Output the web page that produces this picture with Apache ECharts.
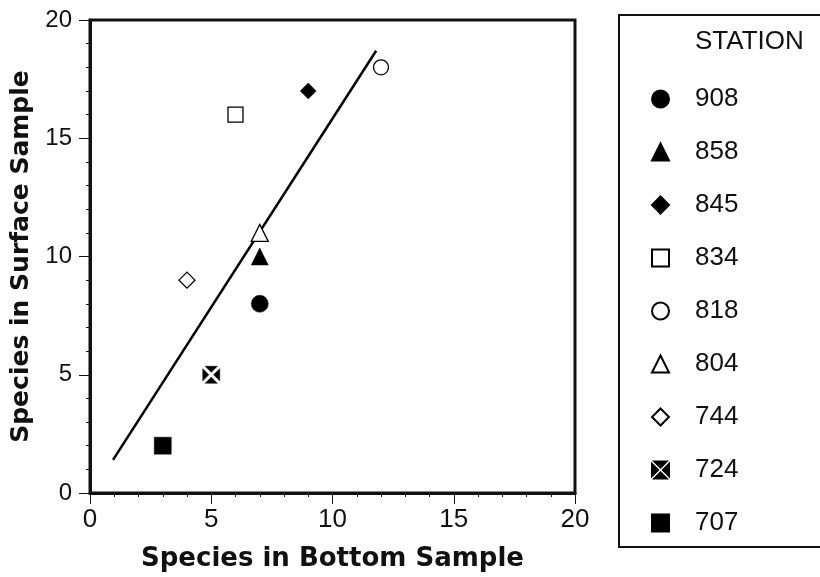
<!DOCTYPE html>
<html><head><meta charset="utf-8">
<script src="https://cdn.jsdelivr.net/npm/echarts@6/dist/echarts.min.js"></script>
<style>html,body{margin:0;padding:0;background:#fff}#c{width:820px;height:577px}</style>
</head><body><div id="c"></div>
<script>
// Data
const stations = ['908','858','845','834','818','804','744','724','707'];
const bottomSpecies = [7, 7, 9, 6, 12, 7, 4, 5, 3];
const surfaceSpecies = [8, 10, 17, 16, 18, 11, 9, 5, 2];
const fitLine = [[0.95, 1.4], [11.8, 18.7]];
const xTicks = [0, 5, 10, 15, 20];
const yTicks = [0, 5, 10, 15, 20];

const crossSquare = 'path://M14,0 L86,0 L50,36 Z M100,14 L100,86 L64,50 Z M86,100 L14,100 L50,64 Z M0,86 L0,14 L36,50 Z';
const markerStyles = [
  {symbol:'circle', size:17, fill:'#000'},
  {symbol:'triangle', size:17, fill:'#000'},
  {symbol:'diamond', size:16, fill:'#000'},
  {symbol:'rect', size:15, fill:'#fff'},
  {symbol:'circle', size:15, fill:'#fff'},
  {symbol:'triangle', size:17, fill:'#fff'},
  {symbol:'diamond', size:16, fill:'#fff'},
  {symbol:crossSquare, size:17, fill:'#000'},
  {symbol:'rect', size:17, fill:'#000'}
];

const series = stations.map((s, i) => ({
  name: s,
  type: 'scatter',
  symbol: markerStyles[i].symbol,
  symbolSize: markerStyles[i].size,
  data: [[bottomSpecies[i], surfaceSpecies[i]]],
  itemStyle: {color: markerStyles[i].fill, borderColor: '#000', borderWidth: markerStyles[i].fill === '#fff' ? 1.3 : 0.5, opacity: 1},
  z: 5
}));
series.push({
  type: 'line', data: fitLine, symbol: 'none', silent: true,
  lineStyle: {color: '#000', width: 2.5}, z: 4
});

const chart = echarts.init(document.getElementById('c'), null, {renderer: 'canvas'});
chart.setOption({
  animation: false,
  backgroundColor: '#fff',
  grid: {left: 90, right: 245, top: 20, bottom: 78, show: true, borderColor: '#111', borderWidth: 3},
  xAxis: {
    type: 'value', min: 0, max: 20, interval: 5,
    name: 'Species in Bottom Sample', nameLocation: 'middle', nameGap: 53,
    nameTextStyle: {fontFamily: 'DejaVu Sans', fontWeight: 'bold', fontSize: 26, color: '#111'},
    axisLine: {lineStyle: {color: '#111', width: 3}},
    axisTick: {show: true, inside: false, length: 11, lineStyle: {color: '#111', width: 1}},
    minorTick: {show: true, splitNumber: 5, length: 4, lineStyle: {color: '#111', width: 1}},
    splitLine: {show: false},
    axisLabel: {margin: 14, color: '#111', fontFamily: 'Liberation Sans', fontSize: 26,
      formatter: v => xTicks.includes(v) ? String(v) : ''}
  },
  yAxis: {
    type: 'value', min: 0, max: 20, interval: 5,
    name: 'Species in Surface Sample', nameLocation: 'middle', nameGap: 50,
    nameTextStyle: {fontFamily: 'DejaVu Sans', fontWeight: 'bold', fontSize: 25, color: '#111'},
    axisLine: {lineStyle: {color: '#111', width: 3}},
    axisTick: {show: true, inside: false, length: 11, lineStyle: {color: '#111', width: 1}},
    minorTick: {show: true, splitNumber: 5, length: 4, lineStyle: {color: '#111', width: 1}},
    splitLine: {show: false},
    axisLabel: {margin: 18, color: '#111', fontFamily: 'Liberation Sans', fontSize: 24,
      formatter: v => yTicks.includes(v) ? String(v) : ''}
  },
  legend: {
    orient: 'vertical', left: 646, top: 81, itemGap: 27,
    itemWidth: 17, itemHeight: 17,
    data: stations,
    textStyle: {fontFamily: 'Liberation Sans', fontSize: 26, color: '#111', padding: [0, 0, 0, 21]},
    selectedMode: false
  },
  graphic: [
    {type: 'rect', shape: {x: 619, y: 15, width: 220, height: 532}, style: {fill: 'none', stroke: '#111', lineWidth: 2}},
    {type: 'text', left: 695, top: 29, style: {text: 'STATION', font: '26px "Liberation Sans"', fill: '#111'}}
  ],
  series: series
});
</script></body></html>
